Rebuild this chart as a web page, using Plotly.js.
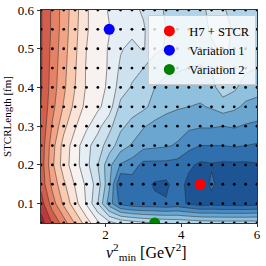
<!DOCTYPE html>
<html><head><meta charset="utf-8">
<script src="https://cdn.plot.ly/plotly-3.0.1.min.js"></script>
<style>html,body{margin:0;padding:0;background:#fff;}#chart{width:266px;height:266px;}</style>
</head><body><div id="chart"></div>
<script>
// grid of scanned parameter points
const xVals = [0.3,0.6,0.9,1.2,1.5,1.8,2.1,2.4,2.7,3.0,3.3,3.6,3.9,4.2,4.5,4.8,5.1,5.4,5.7,6.0];
const yVals = [0.05,0.10,0.15,0.20,0.25,0.30,0.35,0.40,0.45,0.50,0.55,0.60];

const zRow005 = [0.0,1.6,3.0,4.6,6.0,7.3,8.2,8.7,9.0,9.3,9.5,9.6,9.7,9.8,9.9,10.0,10.0,10.0,10.0,10.0];
const zRow010 = [1.0,3.0,4.7,6.1,7.6,9.5,12.0,13.8,14.2,14.3,14.3,14.4,14.2,14.6,15.0,14.9,15.0,15.0,15.0,14.9];
const zRow015 = [1.8,3.8,5.3,6.6,7.7,9.0,11.3,14.6,14.0,14.2,14.6,14.7,14.0,14.8,15.2,14.3,15.0,15.0,15.0,14.9];
const zRow020 = [1.9,4.3,6.0,7.1,8.2,9.5,11.2,12.6,13.0,13.8,13.8,13.8,13.9,14.3,14.7,14.6,14.7,14.7,14.7,14.6];
const zRow025 = [1.8,4.1,5.9,7.0,8.2,9.0,10.0,11.0,11.6,12.2,12.3,12.4,12.6,13.2,13.5,13.5,13.5,13.4,13.5,13.6];
const zRow030 = [1.6,3.6,5.2,6.4,7.3,8.2,9.2,10.3,10.8,11.4,11.8,12.0,12.1,12.3,12.4,12.4,12.5,12.4,12.6,12.7];
const zRow035 = [1.5,3.2,4.6,5.8,6.8,7.3,8.0,9.8,10.1,10.3,10.8,11.2,11.4,11.5,11.6,11.4,11.0,11.3,11.7,11.9];
const zRow040 = [1.4,3.0,4.3,5.5,6.6,7.1,7.7,9.0,9.6,9.8,10.5,10.8,10.9,11.0,11.1,10.8,10.0,10.3,11.0,11.1];
const zRow045 = [1.4,2.9,4.2,5.4,6.6,7.1,7.6,8.7,9.2,9.5,10.2,10.3,10.4,10.5,10.6,10.4,9.8,9.9,10.3,10.5];
const zRow050 = [1.4,2.8,4.1,5.3,6.5,7.0,7.6,8.4,8.8,8.4,9.2,9.6,9.8,10.0,10.0,9.6,9.4,9.6,10.0,10.2];
const zRow055 = [1.4,2.7,4.0,5.2,6.4,7.0,7.45,8.0,8.2,8.4,9.0,9.5,9.8,9.9,9.8,9.4,9.2,9.6,9.9,10.0];
const zRow060 = [1.4,2.7,3.95,5.1,6.4,7.0,7.6,8.0,8.3,8.6,9.2,9.6,9.8,9.9,9.7,9.3,9.4,9.8,9.9,10.0];

// highlighted tunes
const tuneNames = ['H7 + STCR','Variation 1','Variation 2'];
const tuneX = [4.5, 2.1, 3.3];
const tuneY = [0.15, 0.55, 0.05];
const tuneColors = ['#ff0000','#0000ff','#008000'];

// axis ticks and titles
const xTicks = [2,4,6];
const xTickText = ['2','4','6'];
const yTicks = [0.1,0.2,0.3,0.4,0.5,0.6];
const yTickText = ['0.1','0.2','0.3','0.4','0.5','0.6'];
const xTitle = '<i>ν</i><sup>2</sup><sub>min</sub> [GeV<sup>2</sup>]';
const yTitle = 'STCRLength [fm]';

// band colours (RdBu-like)
const bandColors = ['#a8202f','#bd3a3a','#d35e4c','#e48266','#f2a586','#f9c9b0','#fbe4d7','#f7f2ef',
  '#e5eef4','#cde2ee','#b0d3e7','#8fc0dd','#6aa6cf','#4a8bc2','#2f6fae','#1d5493'];

const zGrid = [zRow005,zRow010,zRow015,zRow020,zRow025,zRow030,zRow035,zRow040,zRow045,zRow050,zRow055,zRow060];
const nB = bandColors.length;
const colorscale = bandColors.map((c,i)=>[i/(nB-1), c]);

const dotX = [], dotY = [];
yVals.forEach(y=>xVals.forEach(x=>{dotX.push(x);dotY.push(y);}));

const serif = 'Liberation Serif';
const traces = [
  {type:'contour', x:xVals, y:yVals, z:zGrid, colorscale:colorscale, showscale:false,
   autocontour:false, contours:{start:0.5,end:nB-1.5,size:1,coloring:'fill',showlines:true},
   line:{color:'rgba(40,40,40,0.85)', width:0.6, smoothing:0}, hoverinfo:'skip', showlegend:false},
  {type:'scatter', mode:'markers', x:dotX, y:dotY, marker:{color:'#000', size:2.8},
   showlegend:false, hoverinfo:'skip'}
];
tuneNames.forEach((n,i)=>traces.push({type:'scatter', mode:'markers', name:n, x:[tuneX[i]], y:[tuneY[i]],
  marker:{color:tuneColors[i], size:11}}));

const layout = {
  width:266, height:266, margin:{l:41,r:9,t:10,b:43},
  paper_bgcolor:'#fff', plot_bgcolor:'#fff',
  font:{family:serif, color:'#000'},
  xaxis:{range:[0.3,6], tickvals:xTicks, ticktext:xTickText, ticks:'outside', ticklen:3.5, tickwidth:0.8,
    tickcolor:'#000', showline:true, mirror:true, linecolor:'#000', linewidth:0.8, showgrid:false, zeroline:false,
    tickfont:{family:serif,size:13,color:'#000'}, ticklabelstandoff:-4},
  yaxis:{range:[0.05,0.6], tickvals:yTicks, ticktext:yTickText, ticks:'outside', ticklen:3.5, tickwidth:0.8,
    tickcolor:'#000', showline:true, mirror:true, linecolor:'#000', linewidth:0.8, showgrid:false, zeroline:false,
    tickfont:{family:serif,size:13,color:'#000'},
    title:{text:yTitle, font:{family:serif,size:11,color:'#000'}, standoff:3}},
  annotations:[{text:xTitle, xref:'paper', yref:'paper', x:0.49, y:-0.138, xanchor:'center', yanchor:'middle',
    showarrow:false, font:{family:serif,size:16,color:'#000'}}],
  showlegend:true,
  legend:{x:0.997, y:0.975, xanchor:'right', yanchor:'top', bgcolor:'rgba(255,255,255,0.8)',
    bordercolor:'#cccccc', borderwidth:1, font:{family:serif,size:12.5,color:'#000'}, itemwidth:30, tracegroupgap:0}
};
Plotly.newPlot('chart', traces, layout, {displayModeBar:false, staticPlot:true});
</script></body></html>
